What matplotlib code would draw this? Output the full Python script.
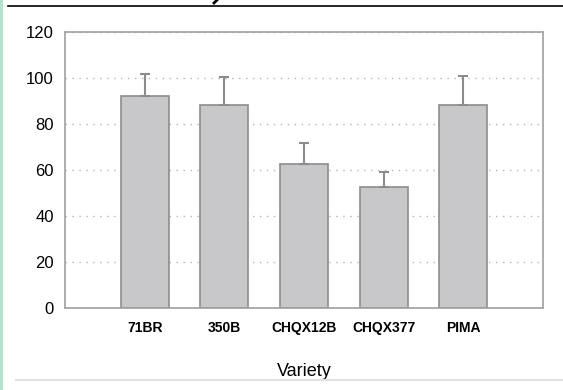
import matplotlib.pyplot as plt
import numpy as np

plt.rcParams['font.family'] = ['Liberation Sans', 'DejaVu Sans']

varieties = ['71BR', '350B', 'CHQX12B', 'CHQX377', 'PIMA']
means = [92.3, 88.1, 62.6, 52.6, 88.1]
errs = [9.3, 12.5, 9.3, 6.5, 13.0]
yticks = [0, 20, 40, 60, 80, 100, 120]

fig = plt.figure(figsize=(5.63, 3.90), dpi=100)
ax = fig.add_axes([0.1155, 0.209, 0.849, 0.709])

x = np.arange(len(varieties))
ax.bar(x, means, width=0.6, color='#c8c8ca', edgecolor='#8c8c8c', linewidth=1.2, zorder=2,
       yerr=[np.zeros(len(errs)), errs],
       error_kw=dict(ecolor='#8c8c8c', elinewidth=1.5, capsize=3.5, capthick=1.5, zorder=3))

ax.set_xlim(-1, 5)
ax.set_ylim(0, 120)
ax.set_yticks(yticks)
ax.set_xticks(x)
ax.set_xticklabels(varieties, fontsize=10, fontweight='bold')
ax.tick_params(axis='both', length=0)
ax.tick_params(axis='y', labelsize=12, pad=8)
ax.tick_params(axis='x', pad=9)
ax.yaxis.grid(True, linestyle=(0, (1, 4)), color='#b4b4b4', linewidth=1, zorder=0)
ax.set_axisbelow(True)
for s in ax.spines.values():
    s.set_color('#a0a0a0')
    s.set_linewidth(1.2)
ax.set_xlabel('Variety', fontsize=13, labelpad=20)

# page decorations around the chart
fig.add_artist(plt.Line2D([8 / 563, 1], [1 - 5.5 / 390] * 2, color='black', lw=1.2))
fig.add_artist(plt.Line2D([16 / 563, 1], [1 - 380 / 390] * 2, color='#e0e0e0', lw=1.5))
fig.add_artist(plt.Rectangle((0, 0), 2.5 / 563, 1, color='#b8e0cc', lw=0))
fig.add_artist(plt.Line2D([214 / 563, 217 / 563], [1 - 3 / 390, 1], color='black', lw=2))

fig.savefig('out.png', dpi=100)
